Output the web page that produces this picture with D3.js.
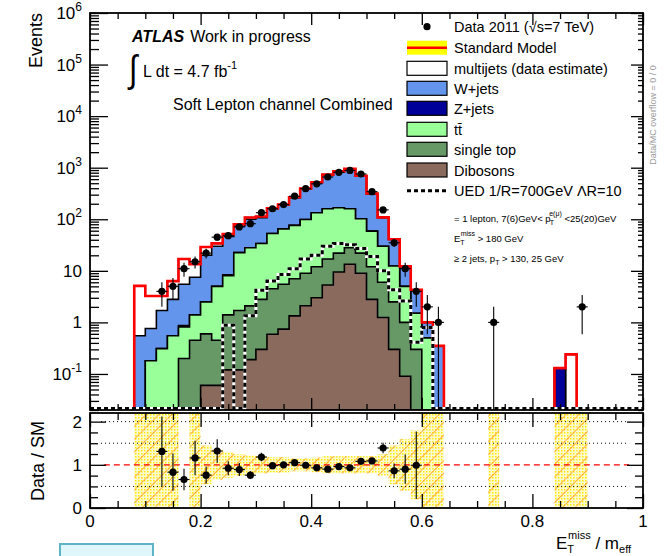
<!DOCTYPE html>
<html>
<head>
<meta charset="utf-8">
<script src="https://cdn.jsdelivr.net/npm/d3@7"></script>
<style>
  body { margin: 0; background: #fff; }
  text { font-family: "Liberation Sans", Arial, Helvetica, sans-serif; }
</style>
</head>
<body>
<svg id="chart" width="666" height="556"></svg>
<script>
// E_T^miss / m_eff distribution, 50 bins of width 0.02 on [0, 1]
const nBins = 50;
const binWidth = 0.02;

// Expected events per bin for each background process
const dibosons   = [0,0,0,0,0,0,0,0,0,0, 0.06,0.06,0.12,0.12,0.19,0.3,0.59,0.74,1.34,2.1, 3.0,5.3,9.5,13.4,9,2.8,1.24,0.3,0.09,0, 0,0,0,0,0,0,0,0,0,0, 0,0,0,0,0,0,0,0,0,0];
const singleTop  = [0,0,0,0,0,0,0,0,0.2,0.45, 0.54,0.39,1.28,1.58,1.9,2.5,3.91,4.76,5.66,6.9, 9,11.7,12.5,14.6,13,9.2,4.76,2.2,0.91,0.3, 0,0,0,0,0,0,0,0,0,0, 0,0,0,0,0,0,0,0,0,0];
const ttbar      = [0,0,0,0,0,0.18,0.31,0.55,0.62,0.95, 1.9,4.55,6.6,20.8,26,31,48.5,59.5,69,90, 122,143,145,132,80,47,24,9.9,4,1.2, 0.5,0,0,0,0,0,0,0,0,0, 0,0,0,0,0,0,0,0,0,0];
const zJets      = [0,0,0,0,0,0,0,0,0.05,0, 0,0,0.4,0,0,0,0,0,0,0, 0,0,0,0,0,0,0,0,0,0, 0,0,0,0,0,0,0,0,0,0, 0,0,0.13,0,0,0,0,0,0,0];
const wJets      = [0,0,0,0,0.55,0.58,1.39,2.25,4.63,6.1, 17.5,25,38.2,51.5,72,73,106.7,124.1,185.7,289, 378.5,558.3,665,773,583,250,77,28,7,2.7, 0.5,0.35,0,0,0,0,0,0,0,0, 0,0,0,0,0,0,0,0,0,0];
const multijets  = [0,0,0,0,4.55,2.5,1.56,3.5,11.5,5.9, 9,4,5,6,8,6,3.3,3.9,5.3,8, 10.5,14.7,17,19,14,6,2,0.6,0.2,0.1, 0,0,0,0,0,0,0,0,0,0, 0,0,0,0.24,0,0,0,0,0,0];

// Signal model (UED 1/R = 700 GeV)
const ued = [0,0,0,0,0,0,0,0,0,0, 0,0,0.88,0,1.34,4.2,6.35,8.5,11,17, 20,30,34,32,27,19,10,4.3,2.6,0.41, 0.8,0,0,0,0,0,0,0,0,0, 0,0,0,0,0,0,0,0,0,0];

// Observed events per bin
const dataCounts = [0,0,0,0,0,0,4,5,11,15, 22,45,48,71,82,134,160,193,280,392, 486,660,815,885,755,343,152,35,11,4, 2,1,0,0,0,0,1,0,0,0, 0,0,0,0,2,0,0,0,0,0];

// Data / SM ratio and its error, bins 6..29
const ratioVals = [null,null,null,null,null,null,1.31,0.83,0.66,1.16, 0.76,1.32,0.92,0.89,0.76,1.18,0.98,1.0,1.05,0.99, 0.93,0.90,0.96,0.93,1.08,1.09,1.39,0.86,0.90,0.99];
const ratioErrs = [0,0,0,0,0,0,0.81,0.43,0.25,0.40, 0.20,0.27,0.16,0.15,0.09,0.10,0.08,0.07,0.06,0.05, 0.045,0.04,0.035,0.035,0.04,0.06,0.12,0.17,0.34,0.78];

// Relative uncertainty band on SM (values >= 5 fill the whole panel)
const smRelErr = [0,0,0,0,9,9,9,9,0,9, 0.45,0.35,0.3,0.25,0.22,0.2,0.18,0.18,0.15,0.15, 0.17,0.2,0.2,0.2,0.2,0.2,0.25,0.45,0.6,0.8, 9,9,0,0,0,0,9,0,0,0, 0,0,9,9,9,0,0,0,0,0];

const xTickMajor = [0, 0.2, 0.4, 0.6, 0.8, 1];
const xTickLabels = ["0", "0.2", "0.4", "0.6", "0.8", "1"];
const yDecades = [-1, 0, 1, 2, 3, 4, 5, 6];
const ratioTickLabels = [0, 1, 2];

const legendNames = ["Data 2011 (\u221As=7 TeV)", "Standard Model", "multijets (data estimate)", "W+jets", "Z+jets", "t\u0074\u0304", "single top", "Dibosons", "UED 1/R=700GeV \u039BR=10"];

// ---------------------------------------------------------------
const svg = d3.select("#chart");
const X0 = 90, X1 = 643;
const MT = 13, MB = 410;      // main pad frame
const RT = 413, RB = 508;     // ratio pad frame

const x = d3.scaleLinear().domain([0, 1]).range([X0, X1]);
const y = d3.scaleLog().domain([0.02, 1e6]).range([MB, MT]).clamp(true);
const yr = d3.scaleLinear().domain([0, 2.2]).range([RB, RT]).clamp(true);

const edges = d3.range(nBins + 1).map(i => +(i * binWidth).toFixed(2));

const colors = {
  multijets: "#ffffff", wjets: "#6495ed", zjets: "#000099",
  ttbar: "#99ff99", stop: "#669966", dib: "#8a6a5c"
};

const defs = svg.append("defs");
defs.append("clipPath").attr("id", "clipMain").append("rect")
  .attr("x", X0).attr("y", MT).attr("width", X1 - X0).attr("height", MB - MT);
defs.append("clipPath").attr("id", "clipRatio").append("rect")
  .attr("x", X0).attr("y", RT).attr("width", X1 - X0).attr("height", RB - RT);
const dots = defs.append("pattern").attr("id", "dots").attr("width", 3).attr("height", 3)
  .attr("patternUnits", "userSpaceOnUse");
dots.append("rect").attr("width", 3).attr("height", 3).attr("fill", "#fffbd0");
dots.append("rect").attr("width", 1.5).attr("height", 1.5).attr("fill", "#ffe800");
const hatch = defs.append("pattern").attr("id", "hatch").attr("width", 9).attr("height", 9)
  .attr("patternUnits", "userSpaceOnUse").attr("patternTransform", "rotate(45)");
hatch.append("line").attr("x1", 0).attr("y1", 0).attr("x2", 0).attr("y2", 9)
  .attr("stroke", "#ff9a1a").attr("stroke-width", 1.6);

function stepPath(vals, ys, base) {
  let p = `M${x(0)},${base}`;
  vals.forEach((v, i) => {
    const yy = v > 0 ? ys(v) : base;
    p += `L${x(edges[i])},${yy}L${x(edges[i + 1])},${yy}`;
  });
  return p + `L${x(1)},${base}`;
}

// ---------------- main pad ----------------
const main = svg.append("g").attr("clip-path", "url(#clipMain)");

const layers = [
  { vals: dibosons, color: colors.dib },
  { vals: singleTop, color: colors.stop },
  { vals: ttbar, color: colors.ttbar },
  { vals: zJets, color: colors.zjets },
  { vals: wJets, color: colors.wjets },
  { vals: multijets, color: colors.multijets }
];
let running = new Array(nBins).fill(0);
const cumulative = layers.map(l => {
  running = running.map((r, i) => r + l.vals[i]);
  return { vals: running.slice(), color: l.color };
});
const smTotal = cumulative[cumulative.length - 1].vals;

// draw the stack from the top layer down
cumulative.slice().reverse().forEach(c => {
  main.append("path").attr("d", stepPath(c.vals, y, MB) + "Z")
    .attr("fill", c.color).attr("stroke", "#000").attr("stroke-width", 1.6)
    .attr("stroke-linejoin", "miter");
});

// SM total outline
main.append("path").attr("d", stepPath(smTotal, y, MB + 3))
  .attr("fill", "none").attr("stroke", "#ff0000").attr("stroke-width", 2.6);

// signal overlay: white line under black dashes
const uedPath = stepPath(ued, y, MB - 1.5);
main.append("path").attr("d", uedPath).attr("fill", "none")
  .attr("stroke", "#fff").attr("stroke-width", 3);
main.append("path").attr("d", uedPath).attr("fill", "none")
  .attr("stroke", "#000").attr("stroke-width", 3).attr("stroke-dasharray", "4,3");

// data points with sqrt(N) errors
const dataG = main.append("g");
dataCounts.forEach((n, i) => {
  if (n <= 0) return;
  const cx = x(edges[i] + binWidth / 2);
  const e = Math.sqrt(n);
  dataG.append("line").attr("x1", cx).attr("x2", cx)
    .attr("y1", y(n + e)).attr("y2", n - e > 0 ? y(n - e) : MB)
    .attr("stroke", "#000").attr("stroke-width", 1.1);
  dataG.append("line").attr("x1", x(edges[i])).attr("x2", x(edges[i + 1]))
    .attr("y1", y(n)).attr("y2", y(n)).attr("stroke", "#000").attr("stroke-width", 1.1);
  dataG.append("circle").attr("cx", cx).attr("cy", y(n)).attr("r", 3.6).attr("fill", "#000");
});

// main frame and axes
svg.append("rect").attr("x", X0).attr("y", MT).attr("width", X1 - X0).attr("height", MB - MT)
  .attr("fill", "none").attr("stroke", "#000").attr("stroke-width", 1.8);

const yMajor = yDecades.map(d => Math.pow(10, d));
const yMinor = [];
for (let d = -2; d < 6; d++) for (let m = 2; m <= 9; m++) {
  const v = m * Math.pow(10, d);
  if (v >= 0.02 && v <= 1e6) yMinor.push(v);
}
svg.append("g").attr("transform", `translate(${X0},0)`)
  .call(d3.axisLeft(y).tickValues(yMajor).tickSize(-18).tickFormat(""))
  .call(g => g.select(".domain").remove());
svg.append("g").attr("transform", `translate(${X0},0)`)
  .call(d3.axisLeft(y).tickValues(yMinor).tickSize(-9).tickFormat(""))
  .call(g => g.select(".domain").remove());
svg.append("g").attr("transform", `translate(${X1},0)`)
  .call(d3.axisRight(y).tickValues(yMajor).tickSize(-12).tickFormat(""))
  .call(g => g.select(".domain").remove());
svg.append("g").attr("transform", `translate(${X1},0)`)
  .call(d3.axisRight(y).tickValues(yMinor).tickSize(-5).tickFormat(""))
  .call(g => g.select(".domain").remove());
svg.selectAll(".tick line").attr("stroke-width", 1.3);

const xMinor = d3.range(0, 1.0001, 0.05).map(v => +v.toFixed(2)).filter(v => !xTickMajor.includes(v));
function xTicks(yPos, dir, bigLen, smallLen) {
  svg.append("g").attr("transform", `translate(0,${yPos})`)
    .call((dir > 0 ? d3.axisBottom(x) : d3.axisTop(x)).tickValues(xTickMajor).tickSize(-bigLen).tickFormat(""))
    .call(g => g.select(".domain").remove());
  svg.append("g").attr("transform", `translate(0,${yPos})`)
    .call((dir > 0 ? d3.axisBottom(x) : d3.axisTop(x)).tickValues(xMinor).tickSize(-smallLen).tickFormat(""))
    .call(g => g.select(".domain").remove());
}
xTicks(MT, -1, 12, 6);
xTicks(MB, 1, 12, 6);

// y tick labels of the main pad
yDecades.forEach(d => {
  const t = svg.append("text").attr("x", 82).attr("y", y(Math.pow(10, d)) + 6)
    .attr("text-anchor", "end").attr("font-size", 17);
  if (d === 0) t.text("1");
  else if (d === 1) t.text("10");
  else {
    t.append("tspan").text("10");
    t.append("tspan").attr("font-size", 12).attr("dy", -8).text(String(d));
  }
});
svg.append("text").attr("transform", "rotate(-90)").attr("x", -13).attr("y", 42)
  .attr("text-anchor", "end").attr("font-size", 18).text("Events");

// annotations
const ann = svg.append("text").attr("x", 132).attr("y", 42).attr("font-size", 16);
ann.append("tspan").attr("font-weight", "bold").attr("font-style", "italic").text("ATLAS");
ann.append("tspan").attr("dx", 6).text("Work in progress");
svg.append("text").attr("x", 129).attr("y", 82).attr("font-size", 38)
  .attr("font-family", "DejaVu Sans").attr("font-weight", "300").attr("transform", "translate(129,82) scale(0.8,1) translate(-129,-82)")
  .text("\u222B");
const lum = svg.append("text").attr("x", 143).attr("y", 77).attr("font-size", 16);
lum.append("tspan").text("L dt = 4.7 fb");
lum.append("tspan").attr("font-size", 11).attr("dy", -8).text("-1");
svg.append("text").attr("x", 173).attr("y", 110).attr("font-size", 16).text("Soft Lepton channel Combined");

// legend
const legX = 407, legTxt = 454, rows = [26.7, 47.7, 68.3, 88.3, 108.3, 129.3, 149.3, 170, 190.7];
const legBoxes = [null, "sm", colors.multijets, colors.wjets, colors.zjets, colors.ttbar, colors.stop, colors.dib, "ued"];
legendNames.forEach((name, i) => {
  const cy = rows[i];
  const b = legBoxes[i];
  if (i === 0) {
    svg.append("circle").attr("cx", legX + 20).attr("cy", cy).attr("r", 3.6).attr("fill", "#000");
  } else if (b === "sm") {
    svg.append("rect").attr("x", legX).attr("y", cy - 7).attr("width", 40).attr("height", 14).attr("fill", "#ffff00");
    svg.append("line").attr("x1", legX).attr("x2", legX + 40).attr("y1", cy).attr("y2", cy)
      .attr("stroke", "#ff0000").attr("stroke-width", 2.6);
  } else if (b === "ued") {
    svg.append("line").attr("x1", legX).attr("x2", legX + 40).attr("y1", cy).attr("y2", cy)
      .attr("stroke", "#000").attr("stroke-width", 3).attr("stroke-dasharray", "4,3");
  } else {
    svg.append("rect").attr("x", legX).attr("y", cy - 7).attr("width", 40).attr("height", 14)
      .attr("fill", b).attr("stroke", "#000").attr("stroke-width", 1.2);
  }
  svg.append("text").attr("x", legTxt).attr("y", cy + 5.5).attr("font-size", 14.5).text(name);
});

// selection summary
const s1 = svg.append("text").attr("x", 454).attr("y", 222).attr("font-size", 9.5);
s1.append("tspan").text("= 1 lepton, 7(6)GeV< p");
s1.append("tspan").attr("font-size", 7).attr("dy", 3).attr("dx", -1).text("T");
s1.append("tspan").attr("font-size", 7).attr("dy", -9).attr("dx", -4).text("e(\u03BC)");
s1.append("tspan").attr("dy", 6).text(" <25(20)GeV");
const s2 = svg.append("text").attr("x", 454).attr("y", 242).attr("font-size", 9.5);
s2.append("tspan").text("E");
s2.append("tspan").attr("font-size", 7).attr("dy", 3).text("T");
s2.append("tspan").attr("font-size", 7).attr("dy", -9).attr("dx", -4).text("miss");
s2.append("tspan").attr("dy", 6).text(" > 180 GeV");
const s3 = svg.append("text").attr("x", 454).attr("y", 262).attr("font-size", 9.5);
s3.append("tspan").text("\u2265 2 jets,   p");
s3.append("tspan").attr("font-size", 7).attr("dy", 3).text("T");
s3.append("tspan").attr("dy", -3).text(" > 130, 25 GeV");

svg.append("text").attr("transform", "rotate(-90)").attr("x", -115).attr("y", 656)
  .attr("text-anchor", "middle").attr("font-size", 9).attr("fill", "#999").text("Data/MC overflow = 0 / 0");

// ---------------- ratio pad ----------------
const ratio = svg.append("g").attr("clip-path", "url(#clipRatio)");
smRelErr.forEach((e, i) => {
  if (e <= 0) return;
  const lo = e >= 5 ? 0 : 1 - e, hi = e >= 5 ? 2.2 : 1 + e;
  ["url(#dots)", "url(#hatch)"].forEach(f => {
    ratio.append("rect").attr("x", x(edges[i])).attr("width", x(edges[i + 1]) - x(edges[i]))
      .attr("y", yr(hi)).attr("height", yr(lo) - yr(hi)).attr("fill", f);
  });
});
[0.5, 1.5, 2].forEach(v => {
  ratio.append("line").attr("x1", x(0.02)).attr("x2", x(0.975)).attr("y1", yr(v)).attr("y2", yr(v))
    .attr("stroke", "#000").attr("stroke-width", 1).attr("stroke-dasharray", "1,3");
});
ratio.append("line").attr("x1", x(0.025)).attr("x2", x(0.975)).attr("y1", yr(1)).attr("y2", yr(1))
  .attr("stroke", "#ff0000").attr("stroke-width", 1.2).attr("stroke-dasharray", "6,4");

ratioVals.forEach((r, i) => {
  if (r == null) return;
  const cx = x(edges[i] + binWidth / 2);
  const e = ratioErrs[i];
  ratio.append("line").attr("x1", cx).attr("x2", cx).attr("y1", yr(r + e)).attr("y2", yr(r - e))
    .attr("stroke", "#000").attr("stroke-width", 1.1);
  ratio.append("line").attr("x1", x(edges[i])).attr("x2", x(edges[i + 1])).attr("y1", yr(r)).attr("y2", yr(r))
    .attr("stroke", "#000").attr("stroke-width", 1.1);
  ratio.append("circle").attr("cx", cx).attr("cy", yr(r)).attr("r", 3.6).attr("fill", "#000");
});

svg.append("rect").attr("x", X0).attr("y", RT).attr("width", X1 - X0).attr("height", RB - RT)
  .attr("fill", "none").attr("stroke", "#000").attr("stroke-width", 1.8);

const rMinor = d3.range(0, 2.21, 0.25).filter(v => ![0, 1, 2].includes(v));
svg.append("g").attr("transform", `translate(${X0},0)`)
  .call(d3.axisLeft(yr).tickValues([0, 1, 2]).tickSize(-16).tickFormat(""))
  .call(g => g.select(".domain").remove());
svg.append("g").attr("transform", `translate(${X0},0)`)
  .call(d3.axisLeft(yr).tickValues(rMinor).tickSize(-8).tickFormat(""))
  .call(g => g.select(".domain").remove());
svg.append("g").attr("transform", `translate(${X1},0)`)
  .call(d3.axisRight(yr).tickValues([0, 1, 2]).tickSize(-16).tickFormat(""))
  .call(g => g.select(".domain").remove());
svg.append("g").attr("transform", `translate(${X1},0)`)
  .call(d3.axisRight(yr).tickValues(rMinor).tickSize(-8).tickFormat(""))
  .call(g => g.select(".domain").remove());
xTicks(RT, -1, 14, 7);
xTicks(RB, 1, 14, 7);
svg.selectAll(".tick line").attr("stroke-width", 1.3);

ratioTickLabels.forEach(v => {
  svg.append("text").attr("x", 82).attr("y", yr(v) + 6).attr("text-anchor", "end")
    .attr("font-size", 17).text(String(v));
});
svg.append("text").attr("transform", "rotate(-90)").attr("x", -461).attr("y", 44)
  .attr("text-anchor", "middle").attr("font-size", 18).text("Data / SM");

xTickMajor.forEach((v, i) => {
  svg.append("text").attr("x", x(v)).attr("y", 527).attr("text-anchor", "middle")
    .attr("font-size", 17).text(xTickLabels[i]);
});
const xt = svg.append("text").attr("x", 556).attr("y", 549).attr("font-size", 17);
xt.append("tspan").text("E");
xt.append("tspan").attr("font-size", 11).attr("dy", 4).text("T");
xt.append("tspan").attr("font-size", 11).attr("dy", -14).attr("dx", -6).text("miss");
xt.append("tspan").attr("dy", 10).text(" / m");
xt.append("tspan").attr("font-size", 11).attr("dy", 4).text("eff");

// small badge at the lower left
svg.append("rect").attr("x", 60).attr("y", 544).attr("width", 93).attr("height", 14)
  .attr("fill", "#dff6fb").attr("stroke", "#5fb3c6").attr("stroke-width", 2);
</script>
</body>
</html>
